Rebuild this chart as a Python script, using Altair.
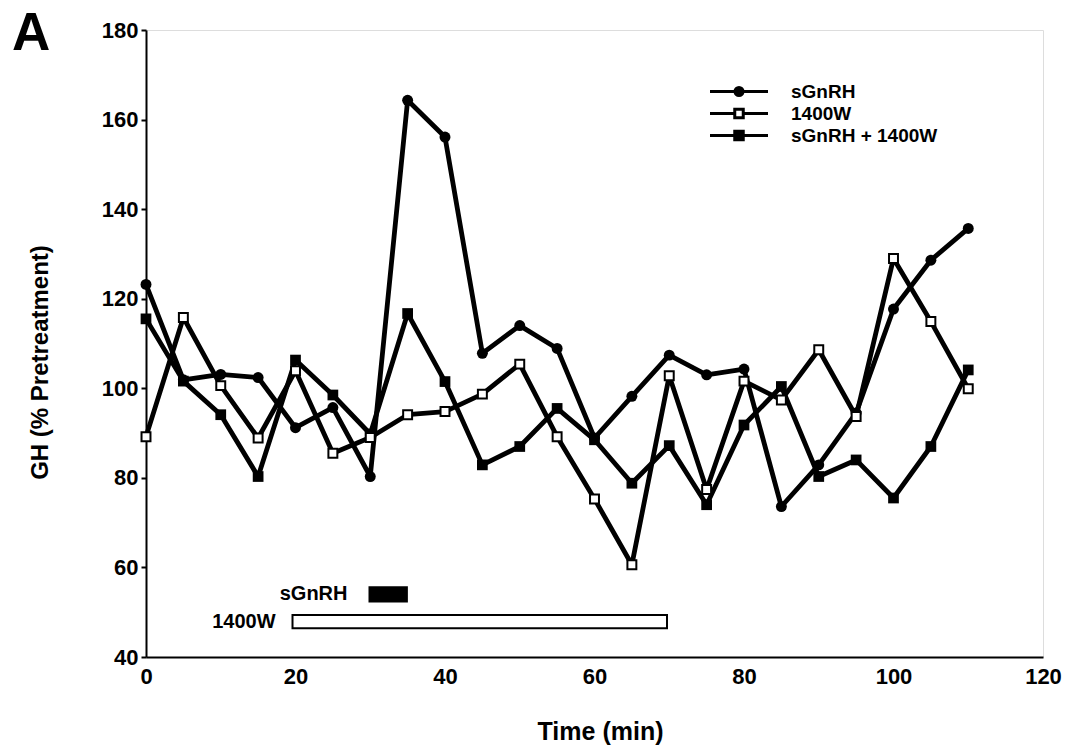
import altair as alt
import pandas as pd

FONT = "Liberation Sans, Arial, Helvetica, sans-serif"

# ---- data ----
time_min = [0, 5, 10, 15, 20, 25, 30, 35, 40, 45, 50, 55, 60, 65, 70, 75, 80, 85, 90, 95, 100, 105, 110]
gh_sgnrh = [123.2, 101.9, 103.1, 102.4, 91.2, 95.7, 80.3, 164.3, 156.1, 107.8, 114.0, 108.9, 88.9,
            98.2, 107.4, 103.0, 104.3, 73.6, 82.9, 94.5, 117.7, 128.6, 135.7]
gh_1400w = [89.2, 115.8, 100.6, 88.9, 103.9, 85.5, 89.0, 94.1, 94.8, 98.7, 105.4, 89.2, 75.3,
            60.6, 102.8, 77.4, 101.6, 97.4, 108.6, 93.7, 129.0, 114.9, 99.9]
gh_combo = [115.5, 101.6, 94.1, 80.3, 106.3, 98.5, 89.8, 116.7, 101.5, 82.9, 87.0, 95.5, 88.5,
            78.8, 87.2, 74.0, 91.8, 100.4, 80.3, 84.0, 75.5, 87.0, 104.1]
series_names = ["sGnRH", "1400W", "sGnRH + 1400W"]

treatments = ["sGnRH", "1400W"]
treat_start = [29.9, 19.6]
treat_end = [34.9, 69.7]
treat_low = [52.4, 46.4]
treat_high = [55.6, 49.4]

panel_label = ["A"]

x_ticks = [0, 20, 40, 60, 80, 100, 120]
y_ticks = [40, 60, 80, 100, 120, 140, 160, 180]

# ---- tables ----
rows = []
for name, vals in zip(series_names, [gh_sgnrh, gh_1400w, gh_combo]):
    for t, v in zip(time_min, vals):
        rows.append({"time": t, "gh": v, "series": name})
df = pd.DataFrame(rows)
bars = pd.DataFrame({"treatment": treatments, "start": treat_start, "end": treat_end,
                     "low": treat_low, "high": treat_high})

xscale = alt.Scale(domain=[0, 120], nice=False, zero=False)
yscale = alt.Scale(domain=[40, 180], nice=False, zero=False)

x_axis = alt.Axis(values=x_ticks, ticks=False, labelPadding=9, labelFontSize=22,
                  labelFont=FONT, labelFontWeight="bold", labelColor="black",
                  domainColor="black", domainWidth=2, grid=False,
                  title="Time (min)", titleFont=FONT, titleFontSize=25, titleFontWeight="bold",
                  titleColor="black", titleX=454, titleY=82, titleBaseline="alphabetic",
                  titleAlign="center", labelFlush=False)
y_axis = alt.Axis(values=y_ticks, tickSize=5, tickWidth=2, tickColor="black", labelPadding=3,
                  labelFontSize=22, labelFont=FONT, labelFontWeight="bold", labelColor="black",
                  domainColor="black", domainWidth=2, grid=False, orient="left",
                  title="GH (% Pretreatment)", titleFont=FONT, titleFontSize=24,
                  titleFontWeight="bold", titleColor="black", titleAngle=270,
                  titleX=-99, titleY=332, titleAlign="center", titleBaseline="alphabetic",
                  labelFlush=False)

base = alt.Chart(df)
X = alt.X("time:Q", scale=xscale, axis=x_axis)
Y = alt.Y("gh:Q", scale=yscale, axis=y_axis)

lines = base.mark_line(color="black", strokeWidth=4.8, strokeJoin="round").encode(
    x=X, y=Y, detail="series:N")

circles = base.transform_filter(alt.datum.series == "sGnRH").mark_point(
    shape="circle", filled=True, color="black", size=120, opacity=1).encode(x=X, y=Y)
fsquares = base.transform_filter(alt.datum.series == "sGnRH + 1400W").mark_point(
    shape="square", filled=True, color="black", size=115, opacity=1).encode(x=X, y=Y)
osquares = base.transform_filter(alt.datum.series == "1400W").mark_point(
    shape="square", filled=True, fill="white", stroke="black", strokeWidth=2,
    size=80, opacity=1).encode(x=X, y=Y)

# legend (symbols: line with marker)
path_c = "M-5.8,0H5.8M-0.8,0A0.8,0.8,0,1,0,0.8,0A0.8,0.8,0,1,0,-0.8,0Z"
path_o = "M-5.8,0H-0.85M0.85,0H5.8M-0.85,-0.85H0.85V0.85H-0.85Z"
path_f = "M-5.8,0H5.8M-0.85,-0.85H0.85V0.85H-0.85Z"
leg = dict(orient="none", legendX=583.5, legendY=52, title=None, padding=0, symbolSize=100,
           labelFont=FONT, labelFontSize=19, labelFontWeight="bold", labelColor="black",
           labelOffset=42.5, rowPadding=1, symbolStrokeWidth=3, symbolStrokeColor="black",
           symbolOpacity=1, labelLimit=400)
legend_layer = base.transform_filter("false").mark_point(
    filled=False, strokeWidth=3, opacity=1).encode(
    x=X, y=Y,
    shape=alt.Shape("series:N", scale=alt.Scale(domain=series_names, range=[path_c, path_o, path_f]),
                    legend=alt.Legend(**leg)),
    fill=alt.Fill("series:N", scale=alt.Scale(domain=series_names, range=["black", "white", "black"]),
                  legend=alt.Legend(**leg)),
    stroke=alt.Stroke("series:N", scale=alt.Scale(domain=series_names, range=["black", "black", "black"]),
                      legend=alt.Legend(**leg)),
)

# treatment bars
bbase = alt.Chart(bars)
bx = alt.X("start:Q", scale=xscale, axis=x_axis)
by = alt.Y("low:Q", scale=yscale, axis=y_axis)
bar_s = bbase.transform_filter(alt.datum.treatment == "sGnRH").mark_rect(
    fill="black", stroke="black", strokeWidth=2).encode(x=bx, x2="end:Q", y=by, y2="high:Q")
bar_w = bbase.transform_filter(alt.datum.treatment == "1400W").mark_rect(
    fill="white", stroke="black", strokeWidth=2).encode(x=bx, x2="end:Q", y=by, y2="high:Q")
lab_s = bbase.transform_filter(alt.datum.treatment == "sGnRH").transform_calculate(
    mid="(datum.low + datum.high) / 2").mark_text(
    align="right", baseline="middle", font=FONT, fontSize=20, fontWeight="bold",
    color="black", dx=-22).encode(x=bx, y=alt.Y("mid:Q", scale=yscale, axis=y_axis), text="treatment:N")
lab_w = bbase.transform_filter(alt.datum.treatment == "1400W").transform_calculate(
    mid="(datum.low + datum.high) / 2").mark_text(
    align="right", baseline="middle", font=FONT, fontSize=20, fontWeight="bold",
    color="black", dx=-17).encode(x=bx, y=alt.Y("mid:Q", scale=yscale, axis=y_axis), text="treatment:N")

# panel letter
panel = alt.Chart(pd.DataFrame({"label": panel_label})).mark_text(
    align="left", baseline="alphabetic", font=FONT, fontSize=53, fontWeight="bold",
    color="black").encode(x=alt.value(-134), y=alt.value(20), text="label:N")

chart = alt.layer(
    bar_w, bar_s, lab_s, lab_w, lines, circles, fsquares, osquares, legend_layer, panel
).properties(
    width=897, height=627,
    autosize=alt.AutoSizeParams(type="none"),
    padding={"left": 146, "top": 30, "right": 29, "bottom": 92},
).configure_view(stroke=None).configure(background="white")

chart.save("out.html", embed_options={"renderer": "svg", "actions": False})
